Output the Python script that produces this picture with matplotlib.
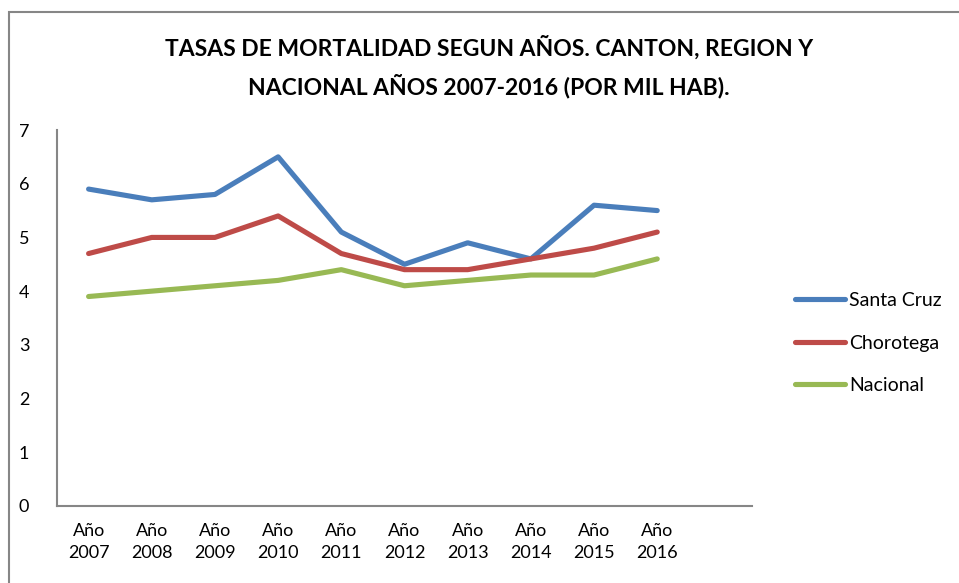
import matplotlib.pyplot as plt
from matplotlib.patches import Rectangle

years = ["Año\n2007", "Año\n2008", "Año\n2009", "Año\n2010", "Año\n2011",
         "Año\n2012", "Año\n2013", "Año\n2014", "Año\n2015", "Año\n2016"]
santa_cruz = [5.9, 5.7, 5.8, 6.5, 5.1, 4.5, 4.9, 4.6, 5.6, 5.5]
chorotega = [4.7, 5.0, 5.0, 5.4, 4.7, 4.4, 4.4, 4.6, 4.8, 5.1]
nacional = [3.9, 4.0, 4.1, 4.2, 4.4, 4.1, 4.2, 4.3, 4.3, 4.6]

series = [("Santa Cruz", santa_cruz, "#4A7EBB"),
          ("Chorotega", chorotega, "#BE4B48"),
          ("Nacional", nacional, "#98B954")]

plt.rcParams['font.family'] = ['Lato', 'DejaVu Sans']

fig = plt.figure(figsize=(9.59, 5.83), dpi=100)
W, H = 959, 583

# chart border (runs off the right and bottom edges)
fig.patches.append(Rectangle((8.5 / W, -0.1), 1.1, 1.1 - 12.5 / H,
                             transform=fig.transFigure, fill=False,
                             edgecolor="#868686", linewidth=1.5))

ax = fig.add_axes([57 / W, 1 - 506 / H, 695 / W, 376 / H])
x = list(range(len(years)))
for name, vals, col in series:
    ax.plot(x, vals, color=col, linewidth=3.7, label=name, solid_capstyle="round")

ax.set_xlim(-0.5, 10.5)
ax.set_ylim(0, 7)
ax.set_yticks(range(0, 8))
ax.set_xticks(x)
ax.set_xticklabels(years, linespacing=1.5)
ax.tick_params(length=0, labelsize=13)
ax.tick_params(axis="y", pad=20)
ax.tick_params(axis="x", pad=12)
for s in ["top", "right"]:
    ax.spines[s].set_visible(False)
for s in ["left", "bottom"]:
    ax.spines[s].set_color("#868686")
    ax.spines[s].set_linewidth(1.5)

fig.text(489 / W, 1 - 48 / H, "TASAS DE MORTALIDAD SEGUN AÑOS. CANTON, REGION Y",
         ha="center", va="center", fontsize=16.5, fontweight="bold")
fig.text(489 / W, 1 - 86 / H, "NACIONAL AÑOS 2007-2016 (POR MIL HAB).",
         ha="center", va="center", fontsize=16.5, fontweight="bold")

fig.legend(loc="center left", bbox_to_anchor=(777 / W, 1 - 343 / H), frameon=False,
           fontsize=14, handlelength=2.6, handletextpad=0.2, labelspacing=1.3)

fig.savefig("out.png", dpi=100)
